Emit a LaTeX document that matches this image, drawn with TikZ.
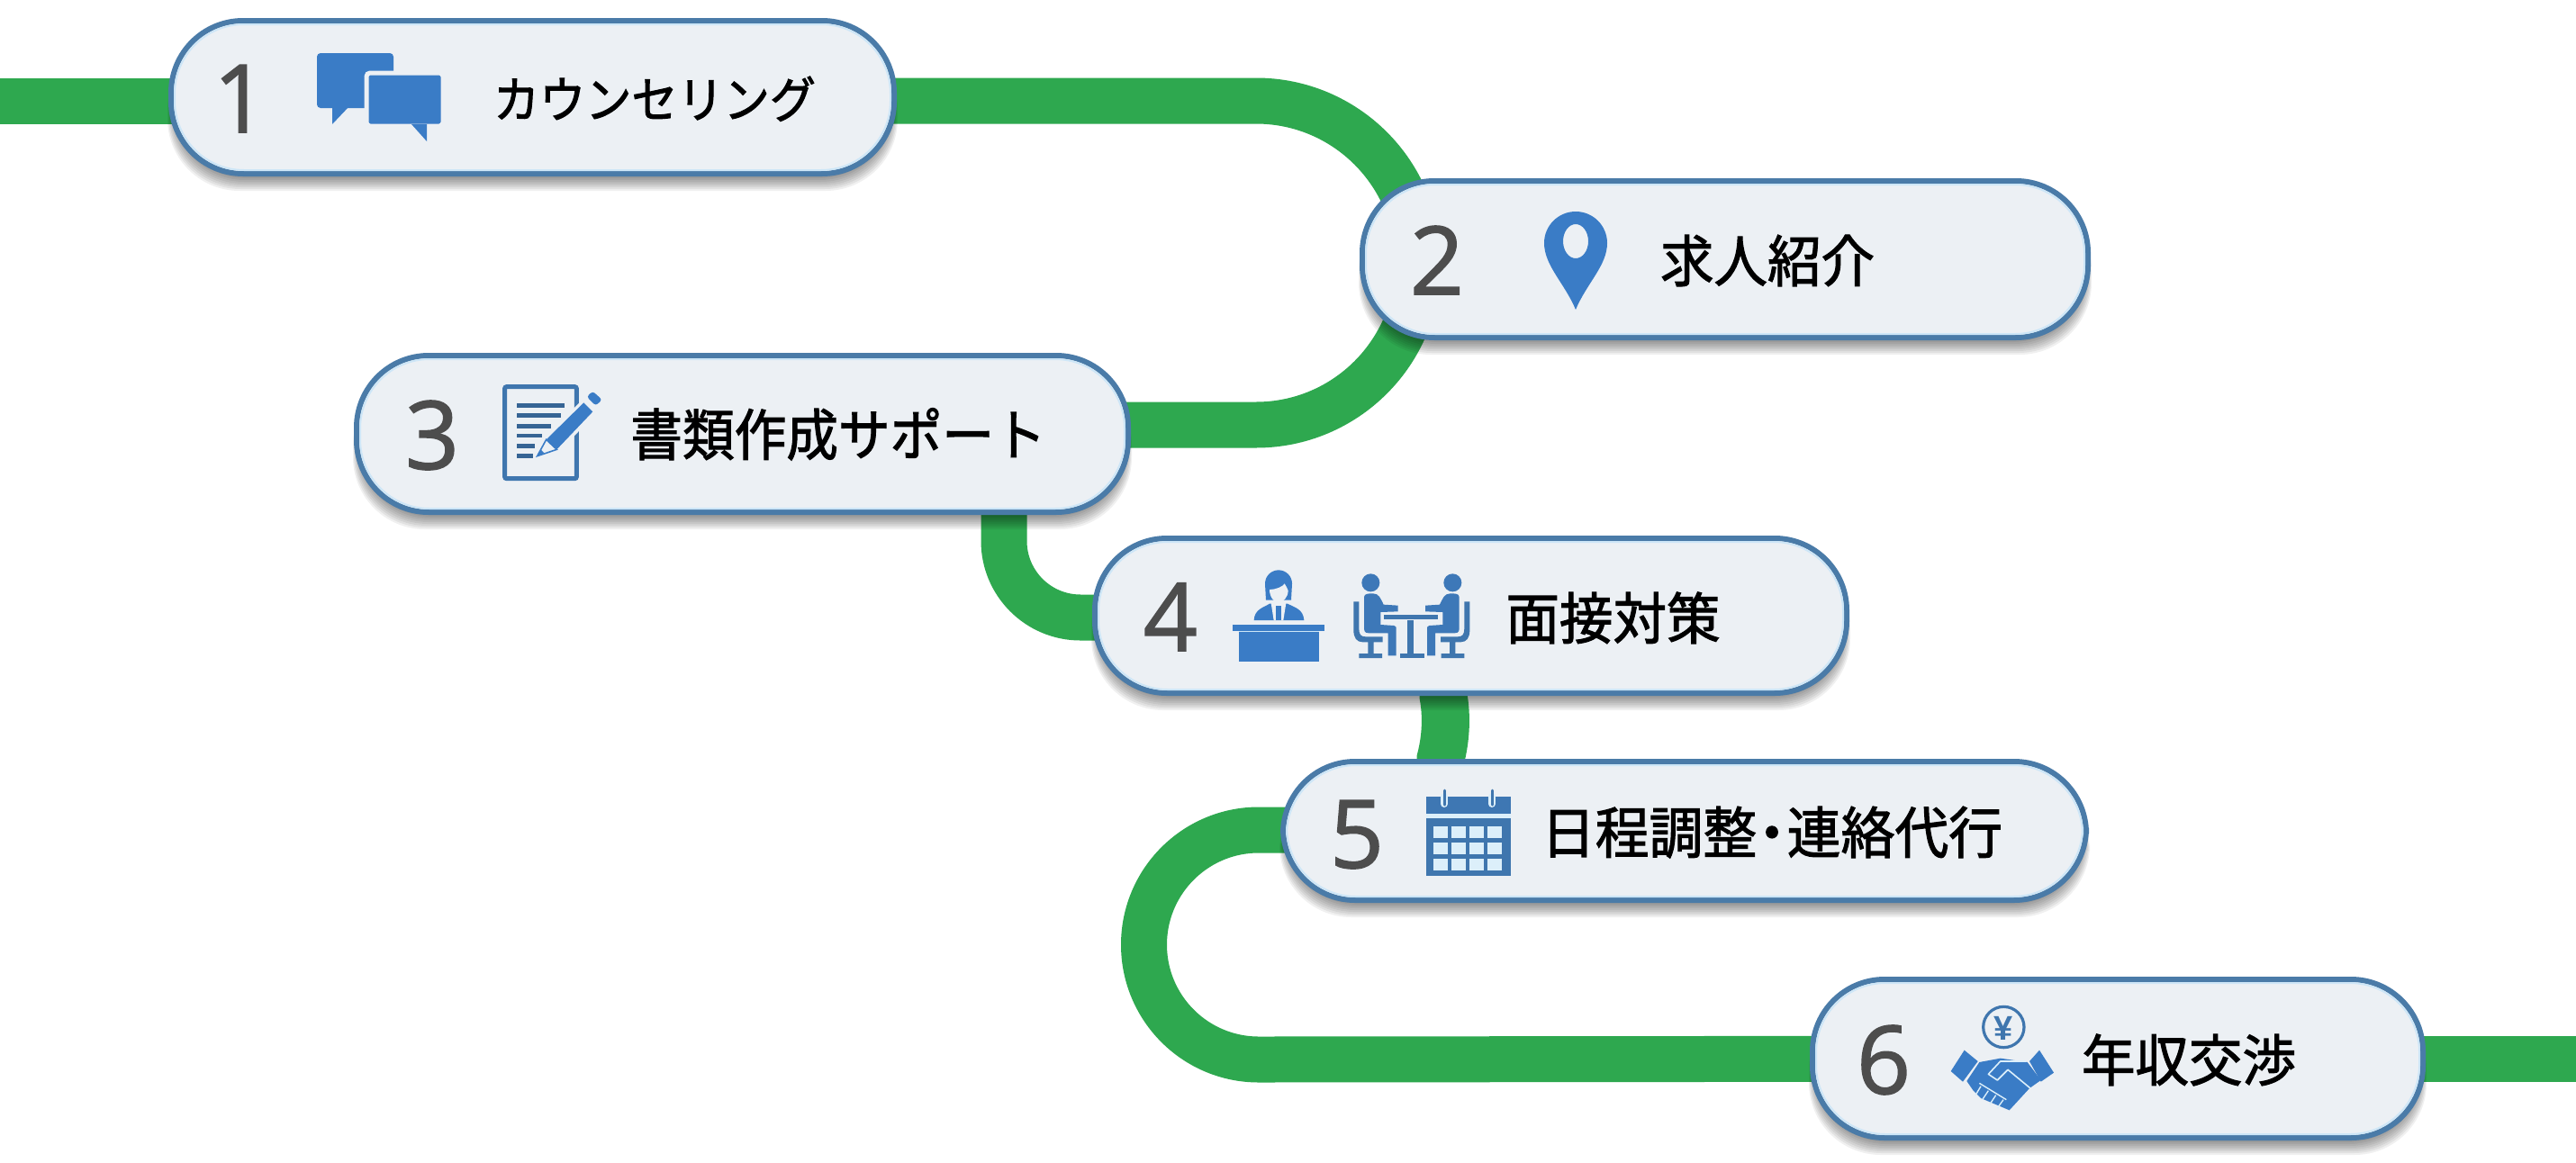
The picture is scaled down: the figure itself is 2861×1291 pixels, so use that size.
\documentclass[tikz,border=0pt]{standalone}
\usepackage{fontspec}
\usepackage{graphicx}
\usetikzlibrary{calc}
\newfontfamily\jpfont{Noto Sans CJK JP}[FakeBold=1.8]
\newfontfamily\numfont{Open Sans}[FakeBold=1.5]
\newfontfamily\yenfont{Liberation Sans Bold}
\definecolor{railgreen}{HTML}{2EA84F}
\definecolor{pilledge}{HTML}{4A7BA8}
\definecolor{pillfill}{HTML}{ECF0F4}
\definecolor{pillglow}{HTML}{CDE6F7}
\definecolor{numgray}{HTML}{4D4D4D}
\definecolor{iconblue}{HTML}{3A7CC6}
\definecolor{icondark}{HTML}{3F76AE}
\definecolor{iconlight}{HTML}{DCEFFA}
\pgfdeclarelayer{rails}
\pgfdeclarelayer{shades}
\pgfsetlayers{rails,shades,main}
\tikzset{
  pill/.style={draw=pilledge,line width=6pt,fill=pillfill,rounded corners=80pt,inner sep=0pt,outer sep=0pt},
  rail/.style={draw=railgreen,line width=51pt},
  digit/.style={anchor=base,inner sep=0pt,text=numgray,font=\numfont\fontsize{105}{105}\selectfont},
  jptext/.style={anchor=base,inner sep=0pt,text=black,font=\jpfont\fontsize{#1}{#1}\selectfont},
  halo/.style={draw=pillfill,line width=#1},
}
\newcommand{\seatedfigure}{%
  \fill[icondark!60!iconblue] (487,82) circle (30);
  \fill[icondark!60!iconblue] (465,130) .. controls (465,118) and (480,118) .. (495,118) .. controls (515,118) and (520,135) .. (530,155) -- (578,158) -- (578,178) -- (520,180) -- (520,222) -- (565,225) .. controls (572,228) .. (572,240) -- (572,325) -- (545,325) -- (545,250) -- (480,250) .. controls (465,250) and (465,240) .. (465,230) -- cycle;
  \fill[icondark] (430,145) -- (448,145) -- (448,235) .. controls (448,255) and (455,262) .. (470,262) -- (527,262) -- (527,280) -- (497,280) -- (497,318) -- (525,318) -- (525,333) -- (448,333) -- (448,318) -- (478,318) -- (478,280) -- (460,280) .. controls (440,280) and (430,265) .. (430,240) -- cycle;
}
\begin{document}
\begin{tikzpicture}[x=1pt,y=-1pt]
\useasboundingbox (0,0) rectangle (2861,1291);
\begin{pgfonlayer}{rails}
\fill[white] (0,0) rectangle (2861,1291);
\end{pgfonlayer}

% step boxes
\node[pill,minimum width=803pt,minimum height=170pt] (n1) at (591.5,108) {};
\node[pill,minimum width=806pt,minimum height=174pt] (n2) at (1916,288) {};
\node[pill,minimum width=857pt,minimum height=174pt] (n3) at (824.5,482) {};
\node[pill,minimum width=835pt,minimum height=172pt] (n4) at (1633.5,684) {};
\node[pill,minimum width=892pt,minimum height=154pt] (n5) at (1871,923) {};
\node[pill,minimum width=678pt,minimum height=176pt] (n6) at (2352,1176) {};
\coordinate (railstart) at (0,112);
\coordinate (railend) at (2861,1176);

% soft shadows
\begin{pgfonlayer}{shades}
\foreach \n in {n1,n2,n3,n4,n5,n6}{
  \foreach \i in {1,...,8}{
    \fill[black,opacity=.06,rounded corners=80pt]
      ([xshift=-\i pt+4pt,yshift=-2*\i pt-3pt]\n.south west) rectangle ([xshift=\i pt-4pt,yshift=-20pt]\n.north east);
  }
}
\end{pgfonlayer}

% connectors
\begin{pgfonlayer}{rails}
\draw[rail] (railstart) -- ([yshift=-4pt]n1.center);
\draw[rail] ([yshift=-4pt]n1.center) -- (1395,112) arc (-90:0:180) -- (n2.center);
\draw[rail] (n2.center) -- (1575,292) arc (0:90:180) -- ([yshift=10pt]n3.center);
\draw[rail] ([xshift=290.5pt]n3.center) -- (1115,601) arc (180:90:85) -- ([yshift=-2pt]n4.center);
\draw[rail,line width=53pt] ([xshift=-30.5pt]n4.center) -- (1603,773) .. controls (1607,795) and (1606,820) .. (1600,843) -- ([xshift=-271pt]n5.center);
\draw[rail] ([yshift=1pt]n5.center) -- (1398,922) arc (-90:-270:127.5) -- (n6.center);
\draw[rail] (n6.center) -- (railend);
\end{pgfonlayer}

% inner glow of boxes
\foreach \n in {n1,n2,n3,n4,n5,n6}{
  \draw[pillglow,line width=2pt,rounded corners=77pt] ([xshift=4pt,yshift=4pt]\n.south west) rectangle ([xshift=-4pt,yshift=-4pt]\n.north east);
}

% numbers
\node[digit] (d1) at (267,147) {1};
\node[digit] (d2) at (1596,327) {2};
\node[digit] (d3) at (480,521) {3};
\node[digit] (d4) at (1300,723) {4};
\node[digit] (d5) at (1507,964) {5};
\node[digit] (d6) at (2092,1215) {6};

% labels
\node[jptext=55] (t1) at (727,131) {\scalebox{.93}[1]{カウンセリング}};
\node[jptext=62] (t2) at (1963,313) {\scalebox{.96}[1]{求人紹介}};
\node[jptext=62] (t3) at (931,506) {\scalebox{.93}[1]{書類作成サポート}};
\node[jptext=62] (t4) at (1791.5,710) {\scalebox{.96}[1]{面接対策}};
\node[jptext=62] (t5) at (1968,948) {\scalebox{.965}[1]{日程調整\kern-.22em・\kern-.22em連絡代行}};
\node[jptext=62] (t6) at (2431,1201) {\scalebox{.96}[1]{年収交渉}};

% icon 1: speech bubbles
\fill[iconblue,rounded corners=4pt] (352,59) rectangle (437,120);
\fill[iconblue] (369,116) -- (369,138) -- (388,118) -- cycle;
\draw[halo=5pt,fill=iconblue,rounded corners=4pt] (407,81) rectangle (492,140);
\fill[iconblue] (457,138) -- (474,157) -- (474,138) -- cycle;

% icon 2: pin
\fill[iconblue,even odd rule] (1750,344) .. controls (1738,315) and (1715,295) .. (1715,270) arc (180:360:35) .. controls (1785,295) and (1762,315) .. (1750,344) -- cycle (1750,268) ellipse (14 and 19);

% icon 3: document and pencil
\begin{scope}[shift={(550,420)},scale=0.33333]
  \draw[icondark,line width=5pt,rounded corners=2pt] (32,29) rectangle (271,335);
  \foreach \yy/\xx in {92/230,125/220,160/187,192/155,227/132,260/125}{
    \fill[icondark!85!black] (72,\yy-7) rectangle (\xx,\yy+7);
  }
  \fill[pillfill] (160,200) -- (295,68) -- (340,112) -- (210,250) -- cycle;
  \fill[iconblue] (170,205) -- (295,82) -- (325,112) -- (205,238) -- cycle;
  \fill[pillfill] (296,62) -- (325,36) -- (366,72) -- (338,102) -- cycle;
  \fill[iconblue,rounded corners=3pt] (305,62) -- (325,44) -- (356,72) -- (335,92) -- cycle;
  \fill[pillfill] (140,260) -- (170,205) -- (205,238) -- cycle;
  \draw[iconblue,line width=1.6pt] (140,260) -- (170,205) -- (205,238) -- cycle;
  \fill[iconblue] (140,260) -- (152,238) -- (163,250) -- cycle;
\end{scope}

% icon 4: person at desk and two seated people
\begin{scope}[shift={(1360,620)},scale=0.33333]
  \fill[iconblue] (180,85) circle (45);
  \fill[iconblue] (135,85) -- (225,85) -- (222,140) -- (138,140) -- cycle;
  \fill[pillfill] (150,105) .. controls (170,105) and (195,95) .. (200,85) .. controls (205,95) and (210,100) .. (212,108) .. controls (212,130) and (195,148) .. (180,148) .. controls (165,148) and (150,130) .. (150,105) -- cycle;
  \fill[iconblue] (98,207) .. controls (100,170) and (130,165) .. (150,152) -- (210,152) .. controls (235,165) and (262,170) .. (265,207) -- cycle;
  \fill[pillfill] (155,150) -- (205,150) -- (196,207) -- (164,207) -- cycle;
  \fill[iconblue] (172,160) -- (188,160) -- (188,207) -- (172,207) -- cycle;
  \fill[iconblue] (28,222) rectangle (333,243);
  \fill[iconblue] (47,243) rectangle (315,345);
  \draw[pillglow,line width=1pt] (47,244) -- (315,244);
  \seatedfigure
  \begin{scope}[shift={(1247,0)},xscale=-1]
    \seatedfigure
  \end{scope}
  \draw[halo=2pt,fill=icondark] (527,187) rectangle (715,207);
  \fill[icondark] (610,207) rectangle (630,320);
  \fill[icondark] (585,318) rectangle (665,333);
\end{scope}

% icon 5: calendar
\fill[iconlight] (1584,904) rectangle (1678,909);
\fill[icondark!80!iconblue] (1584,885) rectangle (1678,904);
\foreach \rx in {1604,1657}{
  \draw[iconlight,line width=8pt,line cap=round] (\rx,885) -- (\rx,893);
  \draw[icondark,line width=3pt,line cap=round] (\rx,878) -- (\rx,894);
}
\fill[icondark] (1584,909) rectangle (1678,973);
\foreach \cx in {0,1,2,3}{
  \foreach \cy in {0,1,2}{
    \fill[iconlight] (1592+20*\cx,918+18*\cy) rectangle ++(16,13);
  }
}

% icon 6: coin and handshake
\begin{scope}[shift={(2150,1105)},scale=0.33333]
  \draw[icondark,line width=3.2pt] (226,108) circle (68);
  \node[inner sep=0pt,text=icondark,font=\yenfont\fontsize{38}{38}\selectfont] (yen) at (226,112) {¥};
  \fill[iconblue] (95,185) -- (140,222) -- (90,290) -- (50,255) -- cycle;
  \fill[iconblue] (345,185) -- (393,260) -- (350,290) -- (312,222) -- cycle;
  \fill[iconblue] (145,225) -- (215,212) -- (305,225) -- (350,285) -- (312,312) -- (245,385) -- (150,345) -- (125,320) -- (103,288) -- cycle;
  \draw[iconlight,line width=1.6pt,line join=round] (300,222) -- (215,222) -- (175,265) -- (205,285) -- (240,250) -- (315,312);
  \draw[iconlight,line width=1.4pt] (145,295) -- (235,350) (150,305) -- (132,335) (175,320) -- (155,350) (200,335) -- (180,365) (225,350) -- (205,378);
\end{scope}
\end{tikzpicture}
\end{document}
